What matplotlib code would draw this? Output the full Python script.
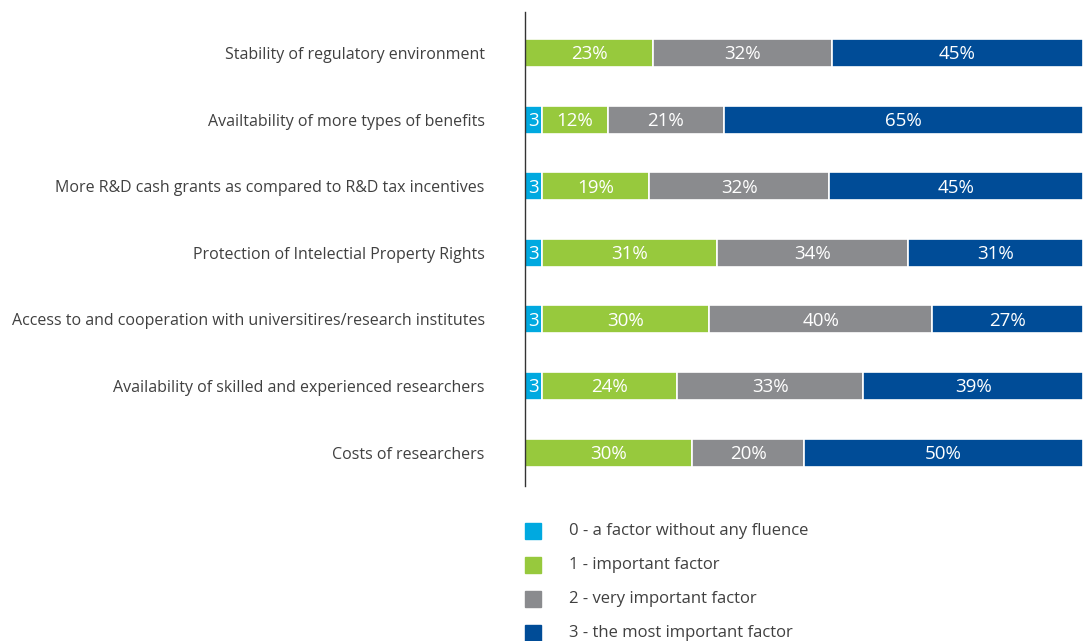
import matplotlib
matplotlib.use("Agg")
import matplotlib.pyplot as plt
from matplotlib.patches import Rectangle
import numpy as np

plt.rcParams['font.family'] = ['Open Sans', 'DejaVu Sans']

categories = [
    "Stability of regulatory environment",
    "Availtability of more types of benefits",
    "More R&D cash grants as compared to R&D tax incentives",
    "Protection of Intelectial Property Rights",
    "Access to and cooperation with universitires/research institutes",
    "Availability of skilled and experienced researchers",
    "Costs of researchers",
]
level0 = [0, 3, 3, 3, 3, 3, 0]
level1 = [23, 12, 19, 31, 30, 24, 30]
level2 = [32, 21, 32, 34, 40, 33, 20]
level3 = [45, 65, 45, 31, 27, 39, 50]
series_names = [
    "0 - a factor without any fluence",
    "1 - important factor",
    "2 - very important factor",
    "3 - the most important factor",
]
colors = ["#00A9E0", "#97C93D", "#8A8B8E", "#004C97"]

W, H = 1085, 641
fig = plt.figure(figsize=(W / 100, H / 100), dpi=100)
ax = fig.add_axes([525 / W, 1 - 486 / H, (1083 - 525) / W, (486 - 12) / H])

data = np.array([level0, level1, level2, level3], dtype=float)
totals = data.sum(axis=0)
shares = data / totals * 100
y = np.arange(len(categories))
left = np.zeros(len(categories))
for i in range(4):
    widths = shares[i]
    bars = ax.barh(y, widths, left=left, height=0.42, color=colors[i],
                   edgecolor="white", linewidth=1.2)
    for j, (b, v) in enumerate(zip(bars, data[i])):
        if v <= 0:
            continue
        txt = f"{int(v)}%" if v >= 5 else f"{int(v)}"
        ax.text(left[j] + widths[j] / 2, y[j] + 0.02, txt, ha="center", va="center",
                color="white", fontsize=13.5)
    left = left + widths

ax.set_xlim(0, 100)
ax.set_ylim(6.5, -0.616)
ax.set_yticks(y)
ax.set_yticklabels(categories, fontsize=11.5, color="#404040")
ax.tick_params(axis="y", length=0, pad=29)
ax.set_xticks([])
for s in ["top", "right", "bottom"]:
    ax.spines[s].set_visible(False)
ax.spines["left"].set_color("#333333")
ax.spines["left"].set_linewidth(1.0)

# legend
leg_y = [531, 565, 599, 633]
for c, name, yy in zip(colors, series_names, leg_y):
    fig.patches.append(Rectangle((525 / W, 1 - (yy + 8) / H), 16 / W, 16 / H,
                                 transform=fig.transFigure, color=c))
    fig.text(569 / W, 1 - yy / H, name, ha="left", va="center",
             fontsize=12, color="#404040")

fig.savefig("out.png", dpi=100)
